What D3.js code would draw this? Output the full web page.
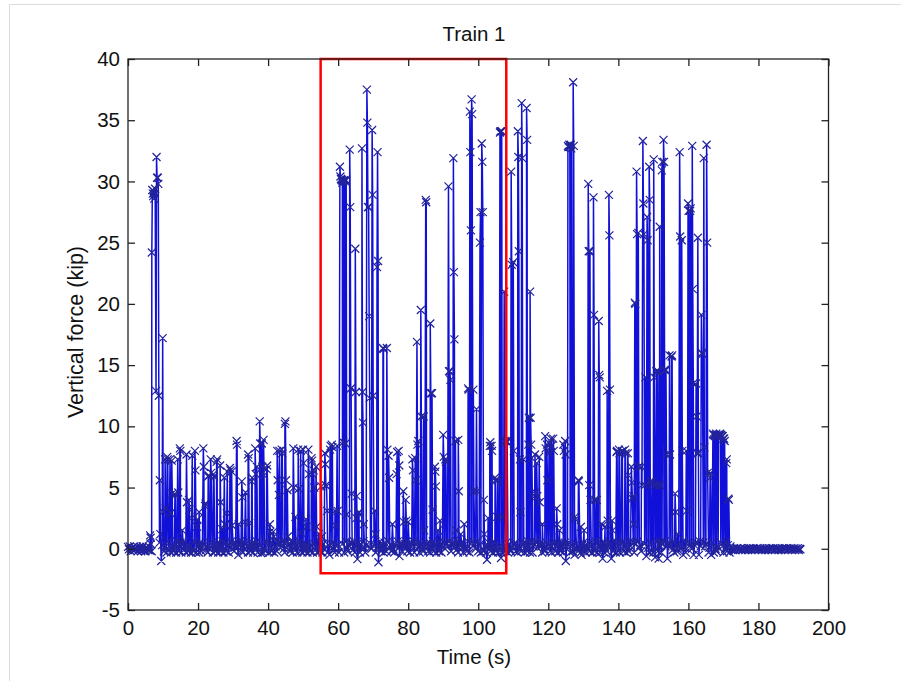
<!DOCTYPE html>
<html>
<head>
<meta charset="utf-8">
<script src="https://cdn.jsdelivr.net/npm/d3@7"></script>
<style>
  html, body { margin: 0; padding: 0; background: #fff; }
  svg { display: block; }
  text { font-family: "Liberation Sans", Arial, Helvetica, sans-serif; fill: #111; }
</style>
</head>
<body>
<svg id="chart" width="901" height="681"></svg>
<script>
// Axis ticks
const xTicks = [0, 20, 40, 60, 80, 100, 120, 140, 160, 180, 200];
const yTicks = [-5, 0, 5, 10, 15, 20, 25, 30, 35, 40];

// Quiet-rail readings (kip), one every 0.25 s from t = 0 s (one row = 10 s)
const baseStep = 0.25;
const baseline = [
  0.15,-0.05,0.2,-0.2,0.0,0.1,-0.15,0.2,-0.1,0.05,0.2,-0.2,0.1,-0.05,0.15,-0.2,0.05,0.2,-0.15,0.0,
  -0.2,0.15,0.1,-0.1,0.2,-0.15,0.4,-0.2,0.5,0.1,-0.3,0.6,0.2,-0.2,0.4,-0.3,0.5,0.0,-1.0,0.3,
  0.4,-0.2,0.1,0.5,-0.3,0.2,0.6,-0.1,0.3,-0.3,0.5,0.0,-0.2,0.4,0.2,-0.3,0.6,0.1,-0.2,0.3,
  0.5,-0.3,0.2,0.4,-0.1,0.6,-0.3,0.1,0.3,-0.2,0.5,0.2,-0.3,0.4,0.0,-0.2,0.6,0.1,-0.3,0.3,
  0.2,-0.3,0.5,0.1,-0.2,0.4,-0.5,0.3,0.6,-0.1,0.2,-0.3,0.4,0.0,0.5,-0.2,0.3,-0.3,0.6,0.1,
  -0.2,0.4,0.2,-0.3,0.5,0.0,-0.2,0.3,0.6,-0.3,0.1,0.4,-0.2,0.5,0.2,-0.3,0.3,-0.1,0.6,0.0,
  0.4,-0.2,0.1,0.5,-0.3,0.2,-0.5,0.3,0.6,-0.1,0.3,-0.3,0.5,0.0,-0.2,0.4,0.2,-0.3,0.6,0.1,
  -0.2,0.3,0.5,-0.3,0.2,0.4,-0.1,0.6,-0.3,0.1,0.3,-0.2,-0.35,0.2,-0.3,0.4,0.0,-0.2,0.6,0.1,
  0.3,-0.3,0.2,0.5,-0.2,0.4,0.0,-0.3,0.6,0.2,-0.2,0.3,0.5,-0.3,0.1,0.4,-0.2,0.6,0.0,-0.3,
  0.3,0.5,-0.5,0.2,0.4,-0.2,0.6,0.1,-0.3,0.3,0.5,-0.1,0.2,-0.3,0.4,0.0,0.6,-0.2,0.3,-0.3,
  0.5,0.1,-0.2,0.4,0.2,-0.3,0.6,0.0,-0.2,0.3,0.5,-0.3,0.2,0.4,-0.1,0.6,-0.3,0.1,0.3,-0.2,
  0.5,0.2,-0.3,0.4,0.0,-0.2,0.6,0.1,-0.3,0.3,-0.5,0.2,0.4,-0.2,0.5,0.0,-0.3,0.6,0.2,-0.2,
  0.3,-0.3,0.5,0.1,-0.2,0.4,0.2,-0.3,-0.5,0.6,0.0,-0.2,0.3,0.5,-0.3,0.2,0.4,-0.1,0.6,-0.3,
  0.1,0.3,-0.85,0.5,0.2,-0.3,0.4,0.0,-0.2,0.6,0.1,-0.3,0.3,0.5,-0.2,0.2,-0.3,0.4,0.0,0.6,
  -0.2,0.3,0.5,-0.3,0.1,0.4,-1.1,0.2,0.6,-0.2,0.3,0.0,-0.3,0.5,0.2,-0.2,0.4,0.6,-0.3,0.1,
  0.3,-0.2,0.5,0.0,-0.3,0.4,0.2,-0.2,0.6,0.1,-0.6,0.3,0.5,-0.2,0.2,-0.3,0.4,0.0,0.6,-0.2,
  0.3,0.5,-0.3,0.2,0.4,-0.1,0.6,-0.3,0.1,0.3,-0.2,0.5,0.2,-0.3,0.4,-0.85,0.0,-0.2,0.6,0.1,
  -0.3,0.3,0.5,-0.2,0.2,-0.3,0.4,0.0,0.6,-0.2,0.3,0.5,-0.3,0.1,0.4,-0.2,0.6,0.2,-0.3,0.3,
  -0.4,0.5,0.0,-0.2,0.4,0.2,-0.3,0.6,0.1,-0.2,0.3,0.5,-0.3,0.2,0.4,-0.1,0.6,-0.3,0.1,0.3,
  -0.2,0.5,0.2,-0.3,-0.9,0.4,0.0,-0.2,0.6,0.1,-0.3,0.3,0.5,-0.2,0.2,-0.3,0.4,0.0,-0.9,0.6,
  -0.2,0.3,0.5,-0.3,0.1,0.4,-0.2,0.6,0.2,-0.3,-0.9,0.3,0.5,0.0,-0.2,0.4,0.2,-0.3,0.6,0.1,
  -0.2,0.3,0.5,-0.3,0.2,0.4,-0.75,0.6,-0.3,0.1,0.3,-0.2,0.5,0.2,-0.3,0.4,0.0,-0.2,0.6,0.1,
  -0.3,0.3,0.5,-0.2,0.2,-0.3,0.4,0.0,0.6,-0.2,-0.5,0.3,0.5,-0.3,0.1,0.4,-0.2,0.6,0.2,-0.3,
  0.3,0.5,-0.3,0.2,0.4,-0.1,0.6,-0.3,0.1,0.3,-0.2,0.5,0.2,-0.3,0.4,0.0,-0.2,0.6,0.1,-0.3,
  0.3,0.5,-0.2,0.2,-0.3,0.4,0.0,0.6,-0.2,0.3,0.5,-0.3,0.1,0.4,-0.2,0.6,0.2,-0.3,0.3,0.5,
  -1.0,0.2,0.4,-0.1,0.6,-0.3,0.1,0.3,-0.2,0.5,-0.5,0.2,0.4,0.0,-0.2,0.6,0.1,-0.3,-0.5,0.3,
  0.5,-0.2,0.2,-0.3,0.4,0.0,0.6,-0.2,0.3,0.5,-0.3,0.1,0.4,-0.2,0.6,0.2,-0.3,0.3,0.5,-0.3,
  0.2,0.4,-0.8,0.6,-0.3,0.1,0.3,-0.2,0.5,0.2,-0.3,0.4,-0.8,0.0,-0.2,0.6,0.1,-0.3,0.3,0.5,
  -0.2,0.2,-0.3,0.4,0.0,0.6,-0.2,0.3,0.5,-0.3,0.1,0.4,-0.2,0.6,0.2,-0.3,0.3,0.5,-0.3,0.2,
  0.4,-0.1,0.6,-0.3,0.1,0.3,-0.2,0.5,0.2,-0.3,0.4,0.0,-0.6,0.6,0.1,-0.3,0.3,0.5,-0.2,0.2,
  -0.3,0.4,-0.7,0.0,0.6,-0.2,-0.8,0.3,0.5,-0.3,0.1,0.4,-0.2,0.6,0.2,-0.3,-0.8,0.3,0.5,-0.3,
  0.2,0.4,-0.1,0.6,-0.3,0.1,0.3,-0.2,0.5,0.2,-0.5,0.4,0.0,-0.2,-0.5,0.6,0.1,-0.3,0.3,0.5,
  -0.2,0.2,-0.5,0.4,0.0,0.6,-0.5,0.3,0.5,-0.3,0.1,0.4,-0.5,0.6,0.2,-0.3,0.3,0.5,-0.5,0.2,
  0.4,-0.1,0.6,-0.3,0.1,0.3,-0.5,0.5,0.2,-0.3,0.4,0.0,-0.2,0.6,0.1,-0.3,0.3,0.5,-0.2,0.2,
  -0.3,0.4,0.0,0.6,-0.2,0.3,0.5,-0.3,0.2,-0.05,0.0,-0.1,0.05,-0.05,-0.1,0.0,0.05,-0.1,-0.05,0.0,
  0.05,-0.1,-0.05,0.05,0.0,-0.1,-0.05,0.0,-0.1,0.05,-0.05,0.0,-0.1,-0.05,0.05,0.0,-0.1,-0.05,0.0,0.05,
  -0.1,0.0,0.05,-0.05,-0.1,0.0,-0.05,0.05,-0.1,0.0,-0.05,-0.1,0.05,0.0,-0.05,-0.1,0.0,0.05,-0.05,-0.1,
  0.0,-0.05,0.05,-0.1,0.0,-0.05,-0.1,0.05,0.0,-0.05,-0.1,0.0,0.05,-0.05,-0.1,0.0,-0.05,0.05,-0.1,0.0,
  -0.05,0.05,-0.1,0.0,-0.05,0.05,-0.1,0.0,-0.05
];

// Axle passages: start time (s) followed by successive readings (kip), 0.15 s apart
const spikeStep = 0.15;
const spikes = [
  [6.3, 1.1, 0.9],
  [6.8, 24.2, 29.3, 29.0],
  [7.2, 28.8, 29.2, 28.6],
  [7.6, 29.0, 29.4],
  [8.0, 12.9, 32.0, 30.3],
  [8.5, 30.3, 29.8, 12.5],
  [9.1, 5.6, 1.2],
  [9.9, 17.2, 3.0],
  [10.6, 7.3, 3.3],
  [11.2, 7.5, 7.3],
  [12.0, 7.3, 2.9],
  [12.5, 7.2, 4.5],
  [13.4, 4.5, 4.4],
  [14.2, 7.3, 4.6],
  [14.8, 8.2, 8.0],
  [15.5, 1.5],
  [16.7, 7.7, 3.8],
  [17.4, 4.0, 3.2],
  [18.2, 2.5, 7.6],
  [19.1, 8.0, 6.4],
  [19.7, 1.8, 2.4],
  [20.3, 3.0],
  [21.5, 8.2, 6.7],
  [22.0, 3.5, 3.7],
  [22.9, 5.9, 6.0],
  [23.6, 7.3, 6.2],
  [24.4, 6.1, 5.9],
  [25.3, 7.1, 7.3],
  [26.3, 6.8, 3.8],
  [26.9, 1.6],
  [27.5, 5.8, 2.0],
  [28.2, 2.9, 6.3],
  [29.1, 6.6, 6.4],
  [29.6, 6.3, 1.9],
  [31.0, 8.8, 8.5],
  [31.6, 2.0],
  [32.5, 5.5, 4.2],
  [33.4, 2.2, 4.6],
  [34.3, 7.7, 7.4, 2.1],
  [35.3, 5.5, 5.8],
  [36.3, 8.2, 6.1],
  [36.8, 6.7],
  [37.6, 10.4, 8.6],
  [38.2, 8.6, 6.7],
  [38.7, 8.9, 6.0],
  [39.6, 6.5, 6.8],
  [40.5, 2.0, 1.4],
  [41.5, 1.4, 1.0],
  [42.6, 8.0, 5.6],
  [43.1, 4.4, 8.0],
  [43.9, 8.1, 7.8],
  [44.8, 10.2, 10.4, 5.6],
  [45.5, 4.8, 1.0],
  [47.2, 8.2, 5.0],
  [47.8, 2.6],
  [48.6, 8.1, 4.9],
  [49.3, 8.0, 1.3],
  [50.0, 8.1, 7.0],
  [50.8, 2.4, 1.8],
  [51.5, 8.1, 6.1],
  [52.4, 7.4, 7.2, 6.1],
  [53.0, 6.4, 5.0],
  [53.7, 6.7, 1.8],
  [54.5, 1.2],
  [55.2, 5.1, 1.0],
  [56.2, 7.8, 6.9, 5.2],
  [56.7, 5.1, 3.1],
  [57.7, 8.1, 8.4],
  [58.2, 8.5, 8.3],
  [59.1, 3.1, 1.9],
  [59.7, 8.4, 3.1],
  [60.5, 31.2, 30.4, 30.2],
  [60.9, 30.2, 30.1, 29.9],
  [61.3, 30.0, 8.7, 30.1],
  [61.8, 30.1, 30.0, 8.6],
  [62.3, 30.1, 2.8],
  [63.3, 32.6, 27.9, 13.1],
  [63.7, 13.1, 4.5],
  [64.9, 24.5, 12.8, 2.5],
  [65.3, 4.3],
  [65.8, 2.9, 3.0],
  [66.8, 32.7, 12.8, 10.3],
  [67.3, 2.0],
  [68.2, 37.5, 34.8, 27.9],
  [68.7, 27.9, 19.0, 12.3],
  [69.7, 34.2, 28.9, 12.5],
  [70.5, 3.1, 1.2],
  [71.1, 23.0, 32.4, 23.5],
  [72.8, 16.4, 16.3],
  [73.9, 16.4, 8.1],
  [74.4, 7.6, 5.8],
  [75.5, 2.0],
  [76.7, 6.1, 7.9],
  [77.3, 8.0, 6.8],
  [78.6, 4.7, 2.2],
  [79.3, 4.0, 2.3],
  [80.0, 2.2],
  [81.2, 7.3, 6.4],
  [82.0, 7.4, 5.6],
  [82.5, 16.9, 8.5],
  [82.9, 8.8],
  [83.6, 19.5, 10.8],
  [84.4, 10.8, 1.5],
  [85.0, 28.5, 28.3],
  [86.3, 18.4, 12.7],
  [86.8, 12.7, 3.2],
  [87.6, 6.7, 6.3, 5.1],
  [88.5, 1.5],
  [89.1, 2.3],
  [90.0, 9.3, 7.5],
  [90.6, 7.3, 7.1],
  [91.5, 29.6, 14.5],
  [91.9, 14.5, 13.8],
  [92.9, 31.9, 22.6, 17.1],
  [93.5, 8.8, 1.5],
  [94.3, 8.9, 4.7],
  [95.0, 1.2],
  [96.0, 2.0],
  [97.1, 13.1, 13.0],
  [97.6, 35.7, 32.4, 26.0],
  [98.1, 36.7, 35.5],
  [98.6, 13.0, 4.7],
  [99.5, 11.4, 4.7],
  [100.5, 25.0, 27.5],
  [101.0, 33.1, 31.6, 27.5],
  [101.6, 4.0, 1.2],
  [102.8, 2.5],
  [103.3, 8.4, 8.7],
  [103.8, 8.4, 8.0],
  [104.8, 5.8, 5.6],
  [105.4, 2.6, 5.6],
  [106.2, 34.0, 34.1],
  [106.7, 34.1, 2.6],
  [107.4, 21.0, 8.8],
  [108.1, 8.8, 8.7],
  [109.4, 30.8, 23.2],
  [110.0, 23.4, 8.0],
  [111.3, 34.1, 32.0, 24.3],
  [111.9, 7.3, 3.0],
  [112.4, 36.4, 31.9],
  [112.9, 7.3],
  [113.8, 36.0, 33.4],
  [114.3, 8.5, 10.7],
  [114.8, 21.0, 10.7, 8.5],
  [115.3, 7.4, 4.3],
  [116.2, 7.7, 4.6],
  [116.7, 7.0, 4.3],
  [117.4, 7.5, 3.8],
  [118.3, 2.0],
  [119.1, 9.2, 8.2],
  [119.6, 8.5, 5.6],
  [120.2, 7.8, 8.6],
  [120.8, 9.0, 8.4],
  [121.4, 9.0, 8.0],
  [122.4, 3.3, 2.0],
  [123.2, 1.5],
  [124.3, 8.5, 8.0],
  [124.8, 8.8, 7.7],
  [125.6, 32.9, 32.8],
  [126.0, 33.0, 32.8],
  [126.4, 33.0, 32.7],
  [127.1, 38.1, 32.9],
  [127.6, 2.6, 2.4],
  [128.6, 5.6, 5.5],
  [129.3, 1.8],
  [130.2, 1.5],
  [131.4, 29.8, 24.3, 5.2],
  [131.9, 24.3, 4.0],
  [132.9, 28.7, 19.1, 4.0],
  [133.7, 4.0, 4.0],
  [134.4, 18.6, 14.2, 14.0],
  [135.2, 2.0],
  [136.2, 1.8],
  [136.8, 12.9, 2.3],
  [137.3, 28.9, 25.6, 13.0],
  [138.2, 2.3, 1.5],
  [139.5, 7.9, 8.0],
  [140.2, 8.1, 7.8],
  [141.0, 7.9, 8.0],
  [141.9, 8.1, 7.8],
  [142.7, 7.8, 6.0],
  [143.7, 6.7, 5.4, 4.1],
  [144.3, 4.3, 2.0],
  [144.7, 20.1, 20.0],
  [145.2, 30.8, 25.7],
  [145.7, 25.8, 6.7],
  [146.6, 6.7, 5.2],
  [147.0, 33.3, 28.2, 25.7],
  [147.6, 5.2, 14.0],
  [148.2, 27.1, 25.2],
  [148.8, 31.2, 28.5, 5.5],
  [149.6, 5.5, 5.3],
  [150.1, 31.8, 14.0, 5.2],
  [150.7, 5.2, 14.5],
  [151.3, 14.5, 5.2],
  [151.8, 26.3, 5.2],
  [152.4, 30.9, 31.6],
  [152.9, 33.4, 31.6, 14.6],
  [153.6, 14.6, 7.7],
  [154.6, 15.8, 7.7],
  [155.2, 15.7, 15.8],
  [156.2, 4.5, 3.0],
  [157.0, 1.2],
  [157.5, 32.4, 25.5],
  [158.1, 25.2, 8.0],
  [159.4, 8.0, 3.1],
  [159.9, 28.2, 27.6],
  [160.5, 27.6, 27.8],
  [161.1, 32.9, 21.2, 13.5],
  [162.2, 13.5, 10.8, 7.8],
  [162.7, 25.4, 7.8],
  [163.7, 19.1, 16.0, 15.9],
  [164.4, 31.9, 8.3],
  [165.2, 33.0, 25.0, 6.2],
  [166.2, 5.8, 6.2],
  [167.0, 9.4, 9.3],
  [167.4, 9.3, 9.2],
  [167.8, 9.3, 9.4],
  [168.2, 9.2, 9.3],
  [168.6, 9.3, 9.2],
  [169.0, 9.4, 9.3],
  [169.4, 9.3, 9.2],
  [169.8, 9.2, 9.0],
  [170.2, 9.0, 8.8],
  [170.8, 7.0, 7.3],
  [171.4, 4.1, 4.0]
];

// Highlighted window: [t start, t end, force low, force high]
const highlight = [55, 108, -2, 40];

// ---- assemble the time series ----
const spikePts = [];
const spans = [];
for (const row of spikes) {
  const t0 = row[0];
  const vals = row.slice(1);
  vals.forEach((v, i) => spikePts.push({ t: +(t0 + i * spikeStep).toFixed(3), v }));
  spans.push([t0 - 0.04, t0 + (vals.length - 1) * spikeStep + 0.04]);
}
const basePts = baseline
  .map((v, i) => ({ t: i * baseStep, v }))
  .filter(p => !spans.some(([a, b]) => p.t >= a && p.t <= b));
const series = basePts.concat(spikePts).sort((a, b) => a.t - b.t);

// ---- layout ----
const W = 901, H = 681;
const plot = { left: 128, right: 828.5, top: 59, bottom: 610 };

const svg = d3.select("#chart");

// light frame around the figure
svg.append("path")
  .attr("d", `M9.5,${H} V4.5 H${W}`)
  .attr("fill", "none").attr("stroke", "#dcdcdc").attr("stroke-width", 1);

const x = d3.scaleLinear().domain([0, 200]).range([plot.left, plot.right]);
const y = d3.scaleLinear().domain([-5, 40]).range([plot.bottom, plot.top]);

const tickLen = 7;
const fontSize = 20.5;

// data line
const line = d3.line().x(d => x(d.t)).y(d => y(d.v));
svg.append("path")
  .datum(series)
  .attr("d", line)
  .attr("fill", "none")
  .attr("stroke", "#1010d8")
  .attr("stroke-width", 1.5)
  .attr("stroke-linejoin", "miter");

// 'x' markers at every sample
const mk = d3.path();
const r = 4;
for (const d of series) {
  const px = x(d.t), py = y(d.v);
  mk.moveTo(px - r, py - r); mk.lineTo(px + r, py + r);
  mk.moveTo(px - r, py + r); mk.lineTo(px + r, py - r);
}
svg.append("path")
  .attr("d", mk.toString())
  .attr("fill", "none")
  .attr("stroke", "#22229c")
  .attr("stroke-width", 1.2);

// highlight rectangle
svg.append("rect")
  .attr("x", x(highlight[0]))
  .attr("y", y(highlight[3]))
  .attr("width", x(highlight[1]) - x(highlight[0]))
  .attr("height", y(highlight[2]) - y(highlight[3]))
  .attr("fill", "none")
  .attr("stroke", "#ff0000")
  .attr("stroke-width", 2.5);

// axes box with inward ticks on all four sides
const axisG = svg.append("g");
axisG.append("rect")
  .attr("x", plot.left).attr("y", plot.top)
  .attr("width", plot.right - plot.left).attr("height", plot.bottom - plot.top)
  .attr("fill", "none").attr("stroke", "#222").attr("stroke-width", 1.3);

const plain = d => String(d);
const bottomAxis = d3.axisBottom(x).tickValues(xTicks).tickSize(-tickLen).tickPadding(10).tickFormat(plain);
const topAxis = d3.axisTop(x).tickValues(xTicks).tickSize(-tickLen).tickFormat("");
const leftAxis = d3.axisLeft(y).tickValues(yTicks).tickSize(-tickLen).tickPadding(8).tickFormat(plain);
const rightAxis = d3.axisRight(y).tickValues(yTicks).tickSize(-tickLen).tickFormat("");

function styleAxis(g) {
  g.select(".domain").remove();
  g.selectAll(".tick line").attr("stroke", "#222").attr("stroke-width", 1.3);
  g.selectAll(".tick text").attr("font-size", fontSize).attr("fill", "#111")
    .attr("font-family", '"Liberation Sans", Arial, sans-serif');
}
axisG.append("g").attr("transform", `translate(0,${plot.bottom})`).call(bottomAxis).call(styleAxis);
axisG.append("g").attr("transform", `translate(0,${plot.top})`).call(topAxis).call(styleAxis);
axisG.append("g").attr("transform", `translate(${plot.left},0)`).call(leftAxis).call(styleAxis);
axisG.append("g").attr("transform", `translate(${plot.right},0)`).call(rightAxis).call(styleAxis);

// titles
svg.append("text")
  .attr("x", 474).attr("y", 41)
  .attr("text-anchor", "middle").attr("font-size", fontSize)
  .text("Train 1");
svg.append("text")
  .attr("x", 474).attr("y", 664)
  .attr("text-anchor", "middle").attr("font-size", fontSize)
  .text("Time (s)");
svg.append("text")
  .attr("transform", "translate(83,332) rotate(-90)")
  .attr("text-anchor", "middle").attr("font-size", 21.5)
  .text("Vertical force (kip)");
</script>
</body>
</html>
